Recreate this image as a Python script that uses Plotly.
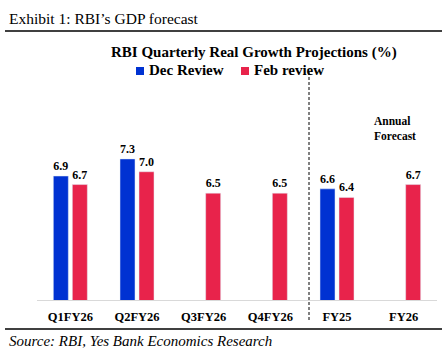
import plotly.graph_objects as go

categories = ["Q1FY26", "Q2FY26", "Q3FY26", "Q4FY26", "FY25", "FY26"]
dec_review = [6.9, 7.3, None, None, 6.6, None]
feb_review = [6.7, 7.0, 6.5, 6.5, 6.4, 6.7]

BLUE = "#0032D2"
RED = "#E8234B"
SERIF = "Liberation Serif"

W, H = 442, 355
L, R, T, B = 37, 5, 129, 55
PW, PH = W - L - R, H - T - B


def px(x):
    return (x - L) / PW


def py(y):
    return (H - B - y) / PH


fig = go.Figure()
fig.add_trace(go.Bar(
    x=categories, y=dec_review, name="Dec Review", marker_color=BLUE,
    texttemplate="%{y:.1f}", textposition="outside",
    textfont=dict(family=SERIF, size=12, color="black", weight="bold"),
    cliponaxis=False,
))
fig.add_trace(go.Bar(
    x=categories, y=feb_review, name="Feb review", marker_color=RED,
    texttemplate="%{y:.1f}", textposition="outside",
    textfont=dict(family=SERIF, size=12, color="black", weight="bold"),
    cliponaxis=False,
))

shapes = [
    dict(type="line", xref="paper", yref="paper", x0=px(5), x1=px(442), y0=py(31), y1=py(31),
         line=dict(color="black", width=1.5)),
    dict(type="line", xref="paper", yref="paper", x0=px(5), x1=px(442), y0=py(329), y1=py(329),
         line=dict(color="black", width=1.5)),
    dict(type="line", xref="paper", yref="paper", x0=px(309), x1=px(309), y0=py(72), y1=py(322),
         line=dict(color="black", width=1, dash="3px,2px")),
    dict(type="rect", xref="paper", yref="paper", x0=px(136), x1=px(144), y0=py(75), y1=py(67),
         fillcolor=BLUE, line=dict(width=0)),
    dict(type="rect", xref="paper", yref="paper", x0=px(241), x1=px(249), y0=py(75), y1=py(67),
         fillcolor=RED, line=dict(width=0)),
]

annotations = [
    dict(text="Exhibit 1: RBI\u2019s GDP forecast", xref="paper", yref="paper", x=px(7), y=py(18),
         xanchor="left", yanchor="middle", showarrow=False,
         font=dict(family=SERIF, size=15.5, color="black")),
    dict(text="RBI Quarterly Real Growth Projections (%)", xref="paper", yref="paper",
         x=px(254), y=py(52), xanchor="center", yanchor="middle", showarrow=False,
         font=dict(family=SERIF, size=15, color="black", weight="bold")),
    dict(text="Dec Review", xref="paper", yref="paper", x=px(147), y=py(70),
         xanchor="left", yanchor="middle", showarrow=False,
         font=dict(family=SERIF, size=15, color="black", weight="bold")),
    dict(text="Feb review", xref="paper", yref="paper", x=px(252), y=py(70),
         xanchor="left", yanchor="middle", showarrow=False,
         font=dict(family=SERIF, size=15, color="black", weight="bold")),
    dict(text="Annual<br>Forecast", xref="paper", yref="paper", x=px(372), y=py(128),
         xanchor="left", yanchor="middle", showarrow=False, align="left",
         font=dict(family=SERIF, size=11.5, color="black", weight="bold")),
    dict(text="<i>Source: RBI, Yes Bank Economics Research</i>", xref="paper", yref="paper",
         x=px(7), y=py(341), xanchor="left", yanchor="middle", showarrow=False,
         font=dict(family=SERIF, size=15, color="black")),
]

fig.update_layout(
    width=W, height=H,
    margin=dict(l=L, r=R, t=T, b=B),
    paper_bgcolor="white", plot_bgcolor="white",
    barmode="group", bargap=0.43, bargroupgap=0.21,
    showlegend=False,
    shapes=shapes, annotations=annotations,
    xaxis=dict(showline=True, linecolor="#d9d9d9", linewidth=1, showgrid=False,
               ticks="outside", ticklen=5, tickcolor="rgba(0,0,0,0)",
               tickfont=dict(family=SERIF, size=12.5, color="black", weight="bold")),
    yaxis=dict(range=[4, 8], visible=False, showgrid=False, zeroline=False),
)

fig.write_html("out.html", config={"displayModeBar": False},
               post_script="document.body.style.margin='0';")
